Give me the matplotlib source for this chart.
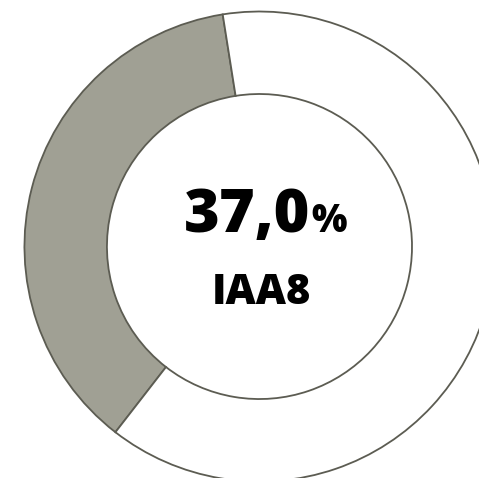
import matplotlib
matplotlib.use("Agg")
import matplotlib.pyplot as plt

# share of the ring that is filled
labels = ["IAA8", "rest"]
values = [37.0, 63.0]
colors = ["#a0a094", "#ffffff"]
valueText = "37,0"
nameText = "IAA8"

fig = plt.figure(figsize=(4.79, 4.78), dpi=100)
ax = fig.add_axes([0, 0, 1, 1])

#donut, gray slice starts just left of 12 o'clock and runs counterclockwise
ax.pie(values, colors=colors, startangle=99, counterclock=True, radius=1.0,
       wedgeprops=dict(width=0.351, edgecolor="#5c5c52", linewidth=1.3))

#ring is bigger than the picture, so crop it like the reference
ax.set_aspect("auto")
ax.set_xlim(-1.104, 0.934)
ax.set_ylim(-0.985, 1.049)
ax.axis("off")

#pixel -> data helper for the centre labels
def px(x, y):
    return (x - 259.5) / 235.0, (246.5 - y) / 235.0

font = ["Open Sans", "DejaVu Sans"]
x0, y0 = px(310, 232)
ax.text(x0, y0, valueText, ha="right", va="baseline", fontsize=44,
        fontweight="heavy", family=font, color="black")
x1, y1 = px(311, 232)
ax.text(x1, y1, "%", ha="left", va="baseline", fontsize=27,
        fontweight="heavy", family=font, color="black")
x2, y2 = px(261, 304)
ax.text(x2, y2, nameText, ha="center", va="baseline", fontsize=30,
        fontweight="heavy", family=font, color="black")

fig.savefig("out.png", dpi=100)
